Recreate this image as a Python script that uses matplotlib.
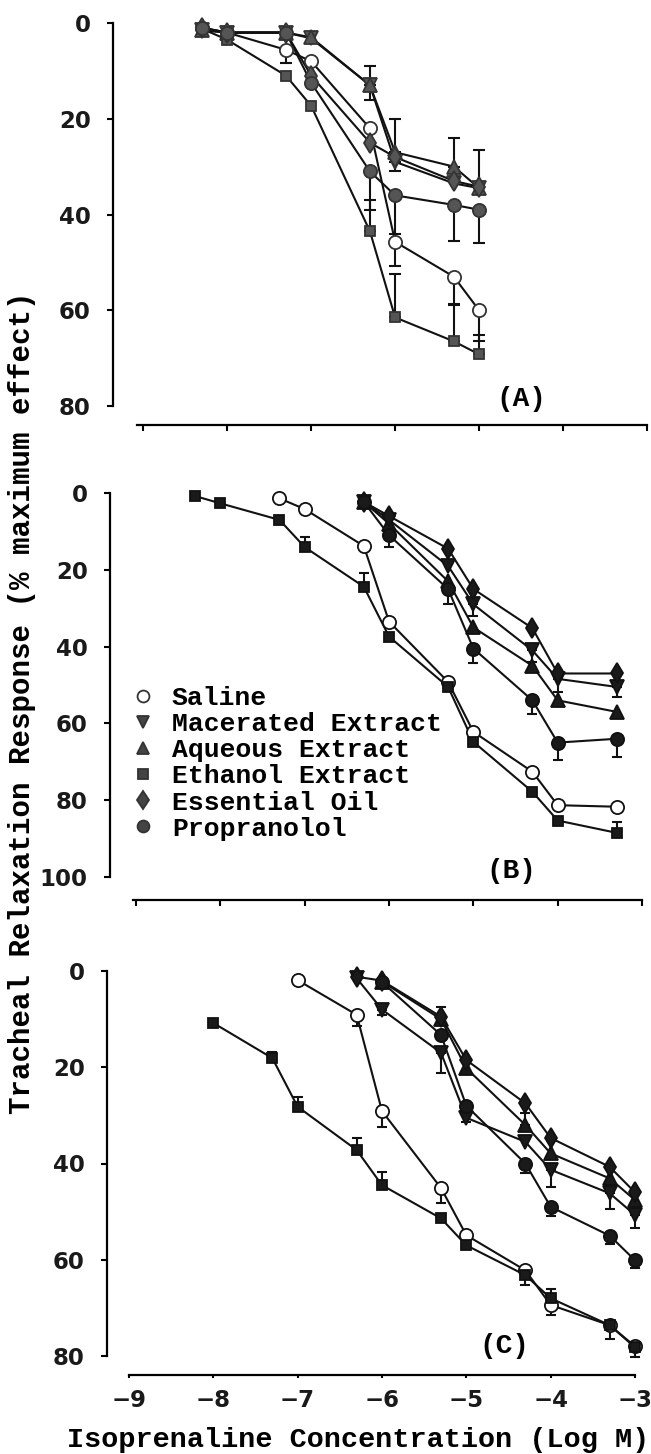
import matplotlib
matplotlib.use('Agg')
import matplotlib.pyplot as plt
from matplotlib.lines import Line2D

plt.rcParams['font.family'] = ['DejaVu Sans']

series_names = ['Saline', 'Macerated Extract', 'Aqueous Extract',
                'Ethanol Extract', 'Essential Oil', 'Propranolol']
series_markers = ['o', 'v', '^', 's', 'd', 'o']
x_ticks = [-9, -8, -7, -6, -5, -4, -3]

# ---- panel A (errors: + means bar towards larger %, - towards smaller %)
conc_a = [-8.3, -8.0, -7.3, -7.0, -6.3, -6.0, -5.3, -5.0]
saline_a = [1.0, 2.0, 5.6, 8.0, 22.0, 45.7, 53.0, 60.0]
saline_a_err = [0, 0, 2.8, 0, 0, 5.0, 5.7, 6.5]
macerated_a = [1.5, 2.0, 2.0, 3.2, 13.0, 29.0, 33.5, 34.5]
macerated_a_err = [0, 0, 0, 0, 3.0, 2.0, 0, 0]
aqueous_a = [1.5, 2.0, 2.0, 3.0, 13.0, 27.0, 30.0, 34.5]
aqueous_a_err = [0, 0, 0, 0, -4.0, -7.0, -6.0, -8.0]
ethanol_a = [1.2, 3.5, 11.0, 17.3, 43.5, 61.5, 66.5, 69.2]
ethanol_a_err = [0, 0, 0, 0, -6.5, -9.0, -7.5, -4.0]
essential_a = [1.0, 2.0, 2.0, 11.0, 25.0, 28.0, 33.0, 34.2]
essential_a_err = [0, 0, 0, 0, 0, 0, 0, 0]
propranolol_a = [1.0, 2.0, 2.0, 12.5, 31.0, 36.0, 38.0, 39.0]
propranolol_a_err = [0, 0, 0, 0, 8.0, 8.0, 7.5, 7.0]

# ---- panel B
conc_b = [-8.3, -8.0, -7.3, -7.0, -6.3, -6.0, -5.3, -5.0, -4.3, -4.0, -3.3]
saline_b = [1.4, 4.2, 13.8, 33.5, 49.2, 62.2, 72.6, 81.3, 81.7]
saline_b_err = [0, 0, 0, 0, 0, 0, 0, 0, 0]
macerated_b = [2.3, 7.0, 19.0, 29.0, 41.0, 48.4, 50.5]
macerated_b_err = [0, 0, 0, 3.0, 3.0, 3.5, 2.5]
aqueous_b = [2.3, 8.0, 23.0, 35.0, 45.0, 54.0, 57.0]
aqueous_b_err = [0, 0, 0, 0, 0, 0, 0]
ethanol_b = [0.8, 2.7, 7.0, 14.1, 24.4, 37.4, 50.5, 64.8, 77.8, 85.3, 88.5]
ethanol_b_err = [0, 0, 0, -2.6, -3.6, 0, 0, 0, 0, 0, -2.8]
essential_b = [2.3, 6.0, 14.5, 25.0, 35.2, 47.0, 47.0]
essential_b_err = [0, 0, 0, 0, 0, 0, 0]
propranolol_b = [2.3, 11.0, 25.0, 40.5, 54.0, 65.0, 64.0]
propranolol_b_err = [0, 3.0, 4.0, 3.8, 3.5, 4.5, 4.7]

# ---- panel C
conc_c = [-8.0, -7.3, -7.0, -6.3, -6.0, -5.3, -5.0, -4.3, -4.0, -3.3, -3.0]
saline_c = [1.9, 9.1, 29.1, 45.1, 54.9, 62.2, 69.4, 73.6, 78.0]
saline_c_err = [0, 2.3, 3.4, 3.1, 0, 0, 2.1, 0, 0]
macerated_c = [1.5, 8.0, 17.0, 30.5, 35.5, 41.3, 46.2, 50.7]
macerated_c_err = [0, 1.2, 4.2, 0, 0, 3.5, 3.3, 2.7]
aqueous_c = [2.2, 10.0, 20.2, 32.0, 37.9, 43.1, 47.6]
aqueous_c_err = [0, -2.6, 0, -2.4, 0, 0, 0]
ethanol_c = [10.8, 18.1, 28.2, 37.2, 44.5, 51.4, 57.0, 63.2, 68.0, 73.6, 78.2]
ethanol_c_err = [0, -1.3, -2.0, -2.4, -2.7, 0, 0, 2.0, -2.0, 2.9, 2.0]
essential_c = [1.2, 2.0, 9.5, 18.5, 27.5, 34.7, 40.7, 46.0]
essential_c_err = [0, 0, 0, 0, 0, 0, 0, 0]
propranolol_c = [2.3, 13.3, 28.0, 40.0, 49.0, 55.0, 60.1]
propranolol_c_err = [0, 0, 3.4, 2.0, 2.0, 1.7, 1.7]

MONO = 'Liberation Mono'
SIZES = {'o': 9.5, 'v': 9.5, '^': 9.5, 's': 7.5, 'd': 10.5}


def draw_series(ax, x, y, err, marker, face, edge, capsize):
    ax.plot(x, y, color='#111111', lw=1.5, zorder=2, clip_on=False)
    idx = [i for i, e in enumerate(err) if e]
    if idx:
        ex = [x[i] for i in idx]
        ey = [y[i] for i in idx]
        lo = [max(-err[i], 0) for i in idx]
        hi = [max(err[i], 0) for i in idx]
        ax.errorbar(ex, ey, yerr=[lo, hi], fmt='none', ecolor='#111111',
                    elinewidth=1.5, capsize=capsize, capthick=1.5,
                    zorder=1, clip_on=False)
    ax.plot(x, y, ls='none', marker=marker, ms=SIZES[marker], mfc=face,
            mec=edge, mew=1.3, zorder=3, clip_on=False)


def style_axes(ax, xlim, ymax, outward, xbounds, tick_len, show_labels):
    ax.set_xlim(*xlim)
    ax.set_ylim(ymax, 0)
    for s in ['top', 'right']:
        ax.spines[s].set_visible(False)
    ax.spines['left'].set_bounds(0, ymax)
    ax.spines['left'].set_linewidth(1.6)
    ax.spines['bottom'].set_position(('outward', outward))
    ax.spines['bottom'].set_bounds(*xbounds)
    ax.spines['bottom'].set_linewidth(1.6)
    ax.set_yticks(range(0, ymax + 1, 20))
    ax.set_xticks(x_ticks)
    ax.tick_params(axis='y', direction='out', length=4, width=1.5, pad=12,
                   labelsize=16.5)
    ax.tick_params(axis='x', direction='out', length=tick_len, width=1.5,
                   pad=8, labelsize=16.5, labelbottom=show_labels)
    for lab in ax.get_yticklabels() + ax.get_xticklabels():
        lab.set_fontweight('bold')
        lab.set_color('#1a1a1a')


fig = plt.figure(figsize=(6.51, 14.54), dpi=100)
ax_a = fig.add_axes([113 / 651, 1 - 406 / 1454, 534 / 651, 383 / 1454])
ax_b = fig.add_axes([110 / 651, 1 - 877 / 1454, 532 / 651, 384 / 1454])
ax_c = fig.add_axes([107 / 651, 1 - 1356 / 1454, 528 / 651, 385 / 1454])

panel_a = [(conc_a, saline_a, saline_a_err), (conc_a, macerated_a, macerated_a_err),
           (conc_a, aqueous_a, aqueous_a_err), (conc_a, ethanol_a, ethanol_a_err),
           (conc_a, essential_a, essential_a_err), (conc_a, propranolol_a, propranolol_a_err)]
panel_b = [(conc_b[2:], saline_b, saline_b_err), (conc_b[4:], macerated_b, macerated_b_err),
           (conc_b[4:], aqueous_b, aqueous_b_err), (conc_b, ethanol_b, ethanol_b_err),
           (conc_b[4:], essential_b, essential_b_err), (conc_b[4:], propranolol_b, propranolol_b_err)]
panel_c = [(conc_c[2:], saline_c, saline_c_err), (conc_c[3:], macerated_c, macerated_c_err),
           (conc_c[4:], aqueous_c, aqueous_c_err), (conc_c, ethanol_c, ethanol_c_err),
           (conc_c[3:], essential_c, essential_c_err), (conc_c[4:], propranolol_c, propranolol_c_err)]

for ax, data, fill, edge, cap in [(ax_a, panel_a, '#555555', '#333333', 4.5),
                                   (ax_b, panel_b, '#1a1a1a', '#111111', 3.5),
                                   (ax_c, panel_c, '#1a1a1a', '#111111', 3.5)]:
    for k, (x, y, e) in enumerate(data):
        face = 'white' if k == 0 else fill
        draw_series(ax, x, y, e, series_markers[k], face, edge, cap)

style_axes(ax_a, (-9.36, -3), 80, 14, (-9.07, -3), 4, False)
style_axes(ax_b, (-9.31, -3), 100, 16.5, (-9.04, -3), 4, False)
style_axes(ax_c, (-9.26, -3), 80, 14, (-9.0, -3), 2, True)

ax_a.text(-4.5, 78.5, '(A)', family=MONO, weight='bold', fontsize=20,
          ha='center', va='center')
ax_b.text(-4.55, 98.5, '(B)', family=MONO, weight='bold', fontsize=20,
          ha='center', va='center')
ax_c.text(-4.55, 78, '(C)', family=MONO, weight='bold', fontsize=20,
          ha='center', va='center')

handles = [Line2D([], [], ls='none', marker=m, ms=SIZES[m] * 0.9,
                  mfc='white' if k == 0 else '#444444', mec='#333333', mew=1.3)
           for k, m in enumerate(series_markers)]
ax_b.legend(handles, series_names, loc='upper left', bbox_to_anchor=(0.043, 0.497),
            frameon=False, borderpad=0, borderaxespad=0, handlelength=0.8,
            handletextpad=0.68, labelspacing=0.08,
            prop={'family': MONO, 'weight': 'bold', 'size': 19})

fig.text(0.034, 0.5165, 'Tracheal Relaxation Response (% maximum effect)',
         rotation=90, family=MONO, weight='bold', fontsize=21,
         ha='center', va='center')
fig.text(0.55, 0.0096, 'Isoprenaline Concentration (Log M)', family=MONO,
         weight='bold', fontsize=20.5, ha='center', va='center')

fig.savefig('out.png', dpi=100)
